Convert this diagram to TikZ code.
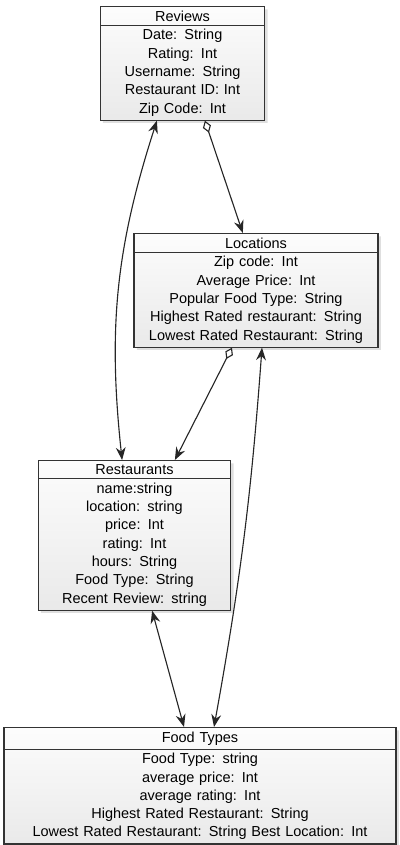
\documentclass[tikz,border=0pt]{standalone}
\usepackage{fontspec}
\setmainfont{Liberation Sans}
\usetikzlibrary{shapes.multipart, arrows.meta, shadows, positioning}

\begin{document}
\begin{tikzpicture}[
    classbox/.style={rectangle split, rectangle split parts=2, draw=black!80, line width=0.8pt, top color=gray!2, bottom color=gray!17, drop shadow={opacity=0.25, shadow xshift=2pt, shadow yshift=-2pt}, align=center, anchor=north, font=\fontsize{10.3}{13}\selectfont, inner xsep=2pt, inner ysep=2.5pt},
    link/.style={thick, black!85, >={Stealth[length=9pt, width=7pt, inset=3pt]}},
    agg/.style={link, {Diamond[open, length=9pt, width=6pt]}->}
]
    \useasboundingbox (0,0) rectangle (10,-21.125);

    \node [classbox, text width=3.98cm] (reviews) at (4.5625,-0.15) {Reviews
        \nodepart{two} Date: String\\ Rating: Int\\ Username: String\\ Restaurant ID: Int\\ Zip Code: Int};
    \node [classbox, text width=5.96cm] (locations) at (6.4,-5.825) {Locations
        \nodepart{two} Zip code: Int\\ Average Price: Int\\ Popular Food Type: String\\ Highest Rated restaurant: String\\ Lowest Rated Restaurant: String};
    \node [classbox, text width=4.68cm] (restaurants) at (3.3625,-11.5) {Restaurants
        \nodepart{two} name:string\\ location: string\\ price: Int\\ rating: Int\\ hours: String\\ Food Type: String\\ Recent Review: string};
    \node [classbox, text width=9.66cm] (foodtypes) at (5,-18.175) {Food Types
        \nodepart{two} Food Type: string\\ average price: Int\\ average rating: Int\\ Highest Rated Restaurant: String\\ Lowest Rated Restaurant: String Best Location: Int};

    \draw [link, <->] ([xshift=-0.64cm]reviews.south) to[bend right=12] ([xshift=-0.31cm]restaurants.north);
    \draw [agg] ([xshift=0.56cm]reviews.south) -- ([xshift=-0.33cm]locations.north);
    \draw [agg] ([xshift=-0.6cm]locations.south) -- ([xshift=1.01cm]restaurants.north);
    \draw [link, <->] ([xshift=0.15cm]locations.south) to[bend left=3] ([xshift=0.35cm]foodtypes.north);
    \draw [link, <->] ([xshift=0.44cm]restaurants.south) -- ([xshift=-0.4cm]foodtypes.north);
\end{tikzpicture}
\end{document}
